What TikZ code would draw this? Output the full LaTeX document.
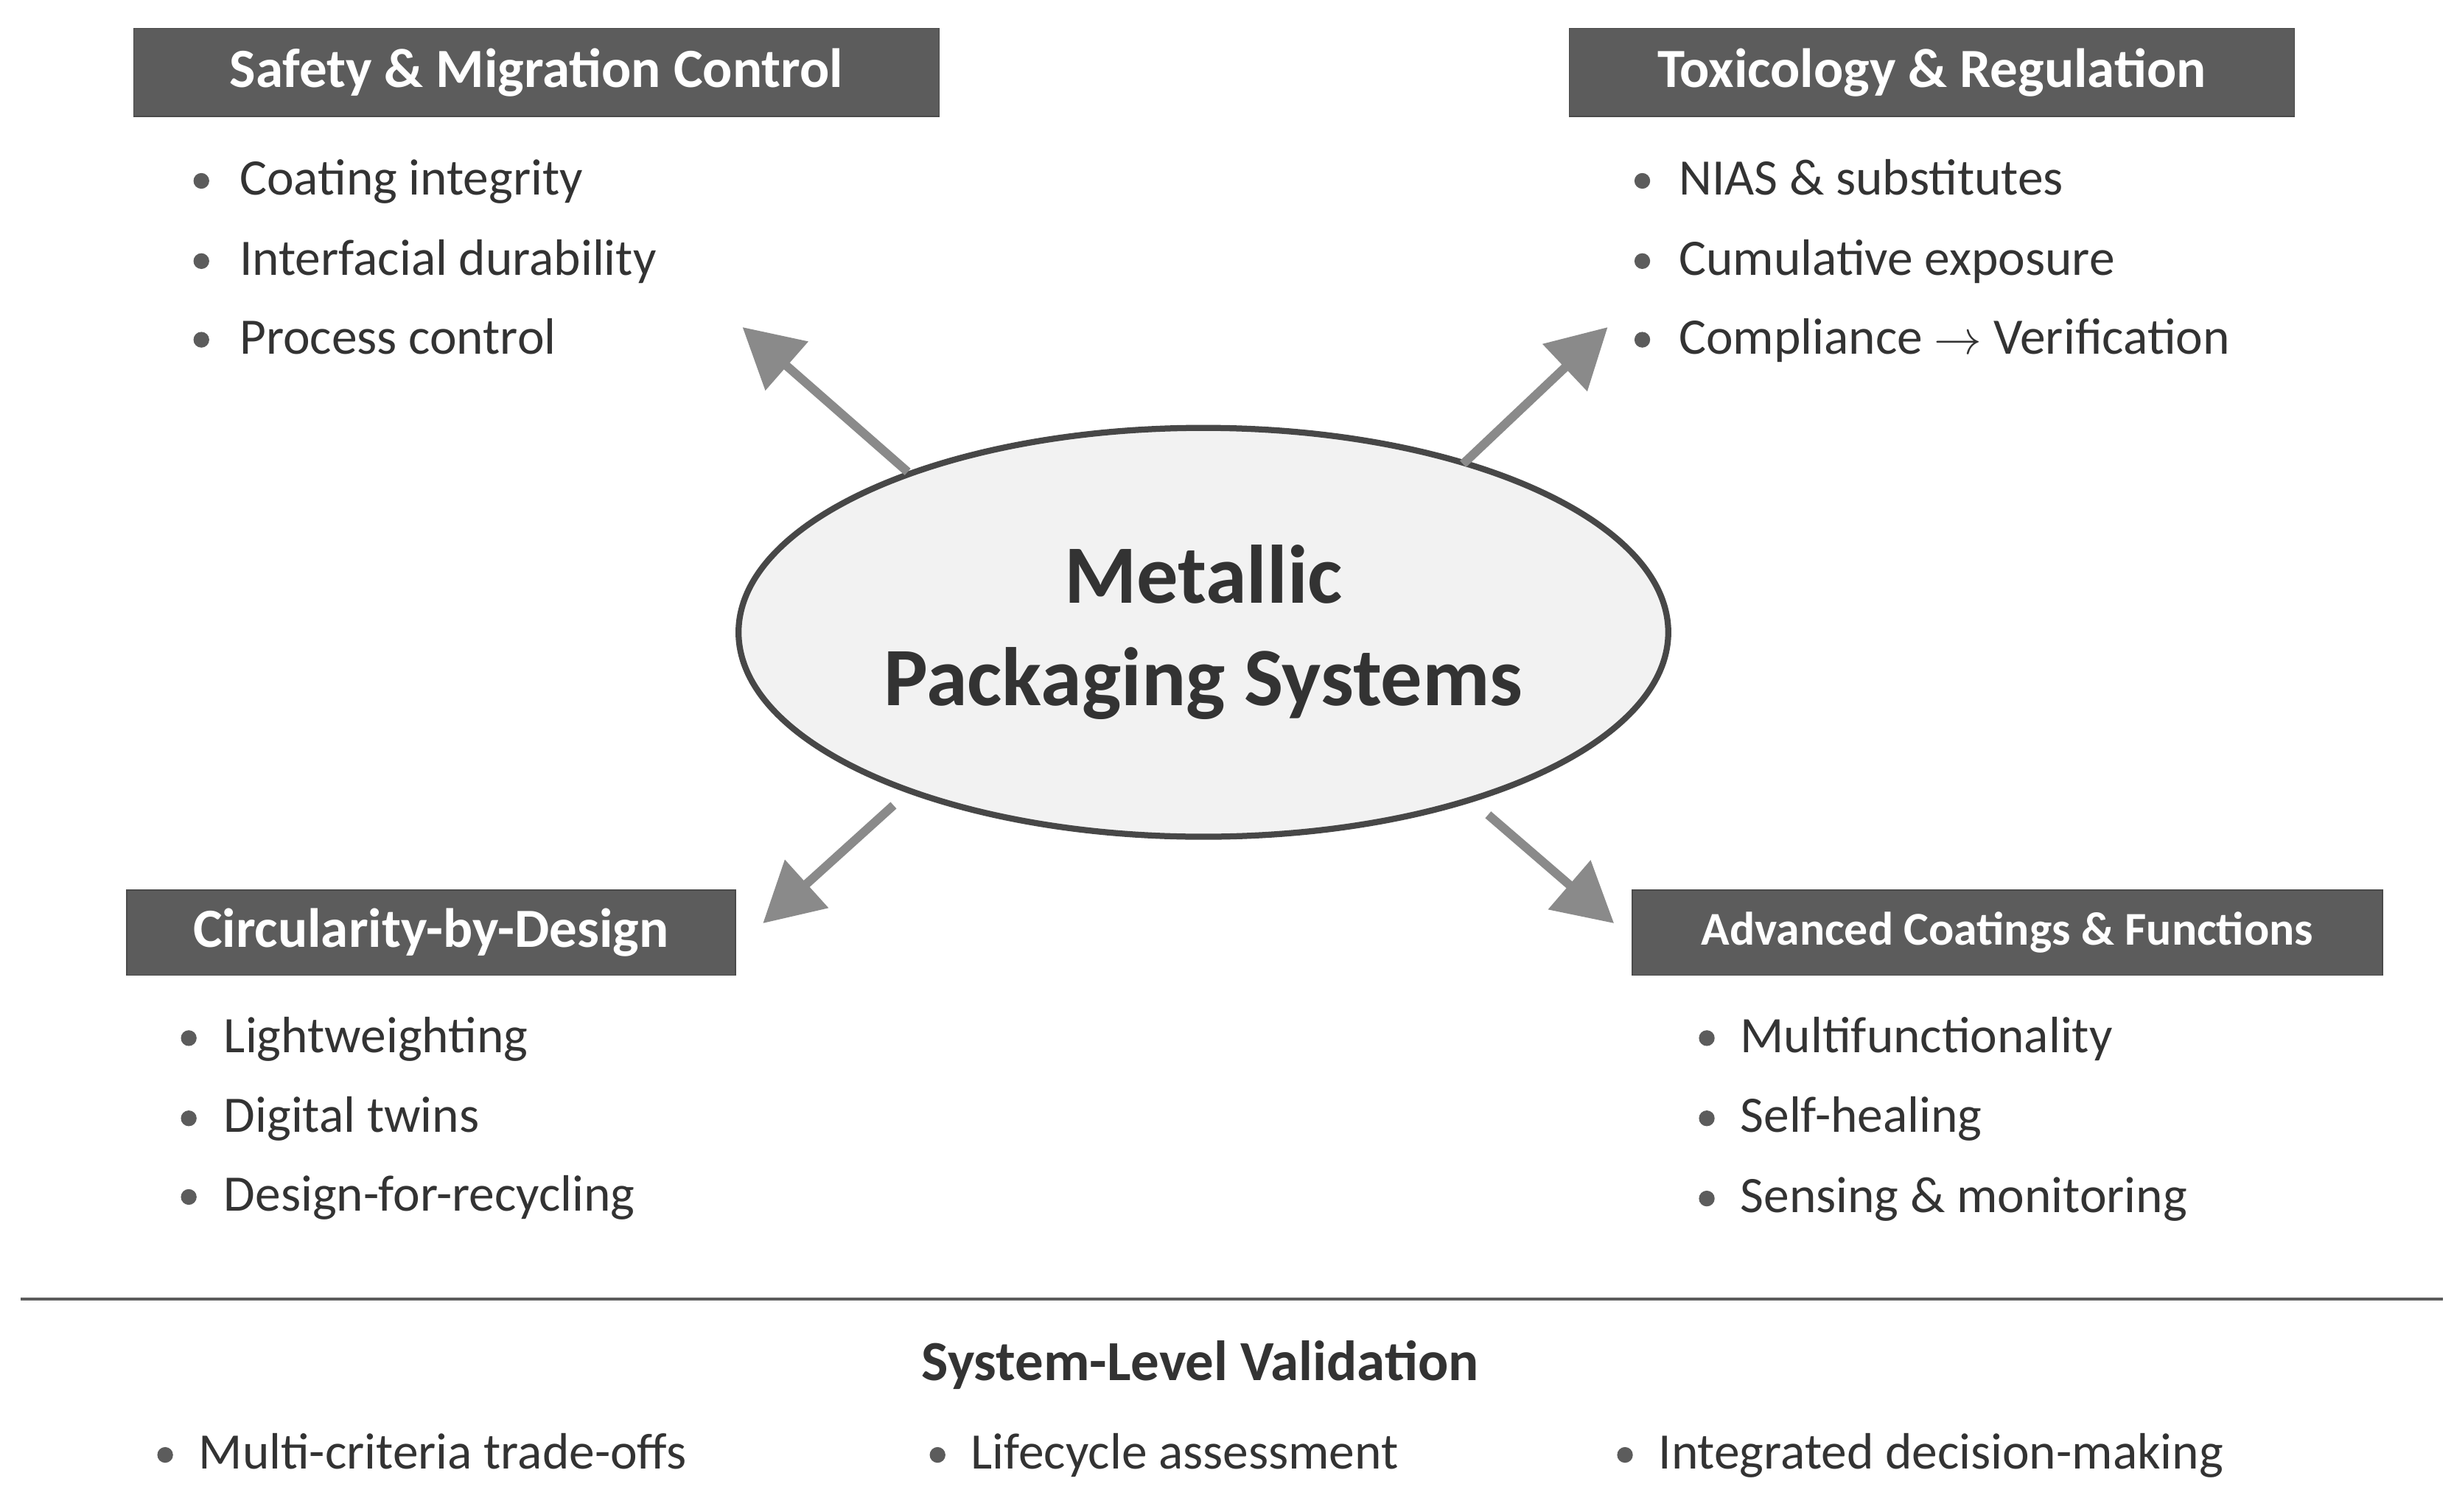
\documentclass[tikz,border=0pt]{standalone}
\usepackage{fontspec}
\setmainfont{Carlito}
\usetikzlibrary{arrows.meta,shapes.geometric}
\definecolor{hdr}{HTML}{5C5C5C}
\definecolor{txt}{HTML}{333333}
\definecolor{arr}{HTML}{8A8A8A}
\begin{document}
\begin{tikzpicture}[x=0.02cm,y=-0.02cm,
  hbox/.style={fill=hdr,draw=hdr!80!black,text=white,font=\fontsize{20}{22}\selectfont\bfseries,inner sep=0},
  item/.style={anchor=base west,text=txt,font=\fontsize{18.5}{20}\selectfont,inner sep=0},
  dot/.style={circle,fill=txt!80,inner sep=0,minimum size=0.2cm},
  ar/.style={draw=arr,line width=3.2pt,-{Triangle[length=0.75cm,width=0.8cm]}}]
\useasboundingbox (0,0) rectangle (1560,961);
% headers
\node[hbox,minimum width=10.24cm,minimum height=1.12cm] (h1) at (341,46) {Safety \& Migration Control};
\node[hbox,minimum width=9.22cm,minimum height=1.12cm] (h2) at (1228,46) {Toxicology \& Regulation};
\node[hbox,minimum width=7.74cm,minimum height=1.08cm] (h3) at (274,593) {Circularity-by-Design};
\node[hbox,minimum width=9.54cm,minimum height=1.08cm,font=\fontsize{17}{19}\selectfont\bfseries] (h4) at (1276,593) {Advanced Coatings \& Functions};
% bullets
\foreach \n/\bx/\tx/\y/\t in {a1/128/152/115/Coating integrity, a2/128/152/166/Interfacial durability, a3/128/152/216/Process control,
  b1/1044/1067/115/NIAS \& substitutes, b2/1044/1067/166/Cumulative exposure, b3/1044/1067/216/Compliance $\rightarrow$ Verification,
  c1/120/142/660/Lightweighting, c2/120/142/711/Digital twins, c3/120/142/761/Design-for-recycling,
  d1/1085/1106/660/Multifunctionality, d2/1085/1106/711/Self-healing, d3/1085/1106/762/Sensing \& monitoring,
  e1/105/126/925/Multi-criteria trade-offs, e2/596/617/925/Lifecycle assessment, e3/1033/1054/925/Integrated decision-making}
{ \node[dot] (\n d) at (\bx,\y) {}; \node[item] (\n) at (\tx,\y+9) {\t}; }
% ellipse
\node[ellipse,draw=txt!90,line width=2.2pt,fill=gray!10,minimum width=10.8cm,minimum height=5.2cm,
  align=center,text=txt,font=\fontsize{30}{37}\selectfont\bfseries] (c) at (765,402) {Metallic\\Packaging Systems};
% arrows
\coordinate (s1) at (577,300); \coordinate (t1) at (472,208);
\coordinate (s2) at (930,295); \coordinate (t2) at (1022,208);
\coordinate (s3) at (568,512); \coordinate (t3) at (485,587);
\coordinate (s4) at (946,518); \coordinate (t4) at (1026,587);
\foreach \i in {1,2,3,4} \draw[ar] (s\i) -- (t\i);
% bottom
\coordinate (l1) at (13,826); \coordinate (l2) at (1553,826);
\draw[draw=txt!80,line width=1.2pt] (l1) -- (l2);
\node[text=txt,font=\fontsize{20.5}{22}\selectfont\bfseries] (sv) at (763,868) {System-Level Validation};
\end{tikzpicture}
\end{document}
